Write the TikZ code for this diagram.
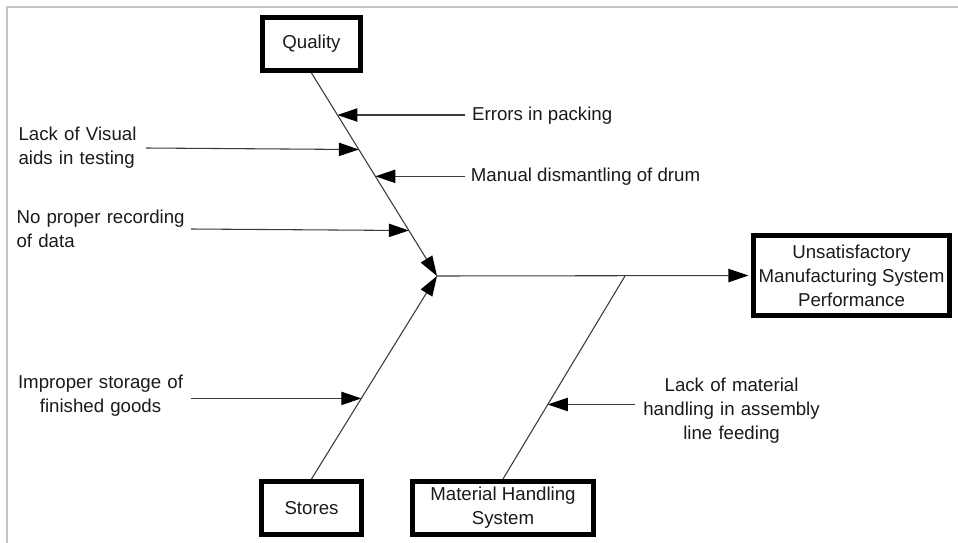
\documentclass[tikz,border=0pt]{standalone}
\usepackage{fontspec}
\setmainfont{Liberation Sans}
\usetikzlibrary{arrows.meta,calc}
\definecolor{ink}{HTML}{1A1A1A}
\definecolor{spine}{HTML}{3A3A3A}
\definecolor{frame}{HTML}{C4C4C4}

\begin{document}
\begin{tikzpicture}[x=.75pt,y=-.75pt,line width=.8pt,every node/.style={font=\fontsize{14}{18}\selectfont,text=ink,inner sep=0pt},box/.style={draw=black,line width=3.75pt,align=center,minimum height=39.75pt},cause/.style={-{Triangle[length=15pt,width=10pt,color=black]},spine}]
\path[use as bounding box] (0,0) rectangle (958,543);
\draw[frame,line width=1.5pt] (6.5,543) -- (6.5,6.5) -- (958,6.5);

% main categories and effect
\node[box,minimum width=73.5pt] (quality) at (311.5,44) {Quality};
\node[box,minimum width=75pt] (stores) at (311.5,508) {Stores};
\node[box,minimum width=135.75pt] (mhs) at (503,508) {Material Handling\\System};
\node[box,minimum width=147pt,minimum height=60pt] (effect) at (851.5,275.5) {Unsatisfactory\\Manufacturing System\\Performance};

\coordinate (head) at (437,276);
\coordinate (branch) at (625,276);
\draw[cause] (quality.south) -- (head);
\draw[cause] (stores.north) -- (head);
\draw[spine] (mhs.north) -- (branch);
\draw[cause,shorten >=1.9pt] (head) -- (effect.west);

% points on the bones
\coordinate (q1) at ($(quality.south)!.207!(head)$);
\coordinate (q2) at ($(quality.south)!.377!(head)$);
\coordinate (q3) at ($(quality.south)!.509!(head)$);
\coordinate (q4) at ($(quality.south)!.776!(head)$);
\coordinate (s1) at ($(stores.north)!.397!(head)$);
\coordinate (m1) at ($(mhs.north)!.367!(branch)$);

% causes
\node[anchor=west,inner xsep=5pt] (errors) at (465,116) {Errors in packing};
\node[anchor=west,inner xsep=4pt] (dismantle) at (465,177) {Manual dismantling of drum};
\node[anchor=west,text width=95.25pt,align=left] (visual) at (18,148) {Lack of Visual\\aids in testing};
\node[anchor=west,text width=130.5pt,align=left] (record) at (16,229) {No proper recording\\of data};
\node[anchor=west,text width=135pt,align=center] (storage) at (10,396) {Improper storage of\\finished goods};
\node[anchor=west,text width=144pt,align=center] (handling) at (635,411) {Lack of material\\handling in assembly\\line feeding};

\draw[cause] (errors.west |- q1) -- (q1);
\draw[cause] (dismantle.west |- q3) -- (q3);
\draw[cause] (visual.east) -- (q2);
\draw[cause] (record.east) -- (q4);
\draw[cause] (storage.east |- s1) -- (s1);
\draw[cause] (handling.west |- m1) -- (m1);

\end{tikzpicture}
\end{document}
